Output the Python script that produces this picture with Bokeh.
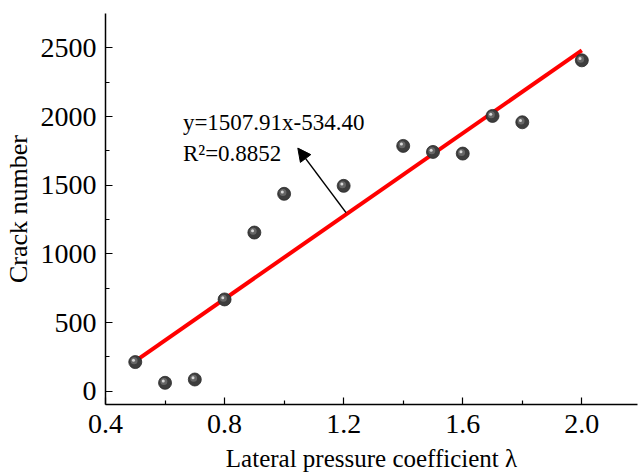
from bokeh.plotting import figure
from bokeh.models import Range1d, FixedTicker, Arrow, NormalHead, Label, ColumnDataSource
from bokeh.embed import file_html
from bokeh.resources import INLINE

# Data
lam = [0.5, 0.6, 0.7, 0.8, 0.9, 1.0, 1.2, 1.4, 1.5, 1.6, 1.7, 1.8, 2.0]
cracks = [212, 61, 85, 668, 1155, 1437, 1495, 1786, 1742, 1730, 2004, 1958, 2409]

fit_x = [0.5, 2.0]
fit_y = [219.6, 2481.4]

x_ticks = [0.4, 0.8, 1.2, 1.6, 2.0]
y_ticks = [0, 500, 1000, 1500, 2000, 2500]

x_title = "Lateral pressure coefficient λ"
y_title = "Crack number"
eq_text = "y=1507.91x-534.40"
r2_text = "R²=0.8852"

FONT = "Liberation Serif"
W, H = 638, 475
L, R, T, B = 104, 1, 13, 71
x0, x1 = 0.4, 2.187
y0, y1 = -97, 2750

p = figure(width=W, height=H, output_backend="svg", toolbar_location=None,
           x_range=Range1d(x0, x1), y_range=Range1d(y0, y1),
           min_border_left=L, min_border_right=R, min_border_top=T, min_border_bottom=B)
p.outline_line_color = None
p.xgrid.visible = False
p.ygrid.visible = False
p.background_fill_color = "white"
p.border_fill_color = "white"

for ax in (p.xaxis[0], p.yaxis[0]):
    ax.axis_line_width = 1.5
    ax.axis_line_color = "black"
    ax.major_tick_in = 7
    ax.major_tick_out = 0
    ax.minor_tick_in = 4
    ax.minor_tick_out = 0
    ax.major_tick_line_width = 1.2
    ax.minor_tick_line_width = 1.2
    ax.major_label_text_font = FONT
    ax.major_label_text_font_size = "28px"
    ax.major_label_text_color = "black"
    ax.axis_label_text_font = FONT
    ax.axis_label_text_font_style = "normal"
    ax.axis_label_text_color = "black"

p.xaxis.ticker = FixedTicker(ticks=x_ticks, minor_ticks=[0.6, 1.0, 1.4, 1.8])
p.xaxis.major_label_overrides = {t: f"{t:.1f}" for t in x_ticks}
p.yaxis.ticker = FixedTicker(ticks=y_ticks, minor_ticks=[250, 750, 1250, 1750, 2250])
p.xaxis.axis_label = x_title
p.yaxis.axis_label = y_title
p.xaxis.axis_label_text_font_size = "25px"
p.yaxis.axis_label_text_font_size = "26px"
p.xaxis.major_label_standoff = 10
p.yaxis.major_label_standoff = 9
p.xaxis.axis_label_standoff = 9
p.yaxis.axis_label_standoff = 5

# fit line
p.line(fit_x, fit_y, line_color="#ff0000", line_width=4)

# sphere-like markers
px_x = (x1 - x0) / (W - L - R)
px_y = (y1 - y0) / (H - T - B)
src = ColumnDataSource(dict(x=lam, y=cracks))
p.scatter("x", "y", source=src, size=13, fill_color="#3d3d3d", line_color="#2a2a2a", line_width=0.8)
hx1 = [v - 1.2 * px_x for v in lam]
hy1 = [v + 1.2 * px_y for v in cracks]
p.scatter(hx1, hy1, size=7, fill_color="#6a6a6a", line_color=None, fill_alpha=0.9)
hx2 = [v - 1.8 * px_x for v in lam]
hy2 = [v + 1.8 * px_y for v in cracks]
p.scatter(hx2, hy2, size=3, fill_color="#d8d8d8", line_color=None)

# annotation
p.add_layout(Label(x=0.66, y=1958, text=eq_text, text_font=FONT, text_font_size="23px",
                   text_color="black", text_baseline="alphabetic"))
p.add_layout(Label(x=0.66, y=1732, text=r2_text, text_font=FONT, text_font_size="23px",
                   text_color="black", text_baseline="alphabetic"))
p.add_layout(Arrow(x_start=1.208, y_start=1300, x_end=1.046, y_end=1770,
                   line_color="black", line_width=1.5,
                   end=NormalHead(size=13, fill_color="black", line_color="black", line_width=1)))

open("out.html", "w").write(file_html(p, INLINE))
